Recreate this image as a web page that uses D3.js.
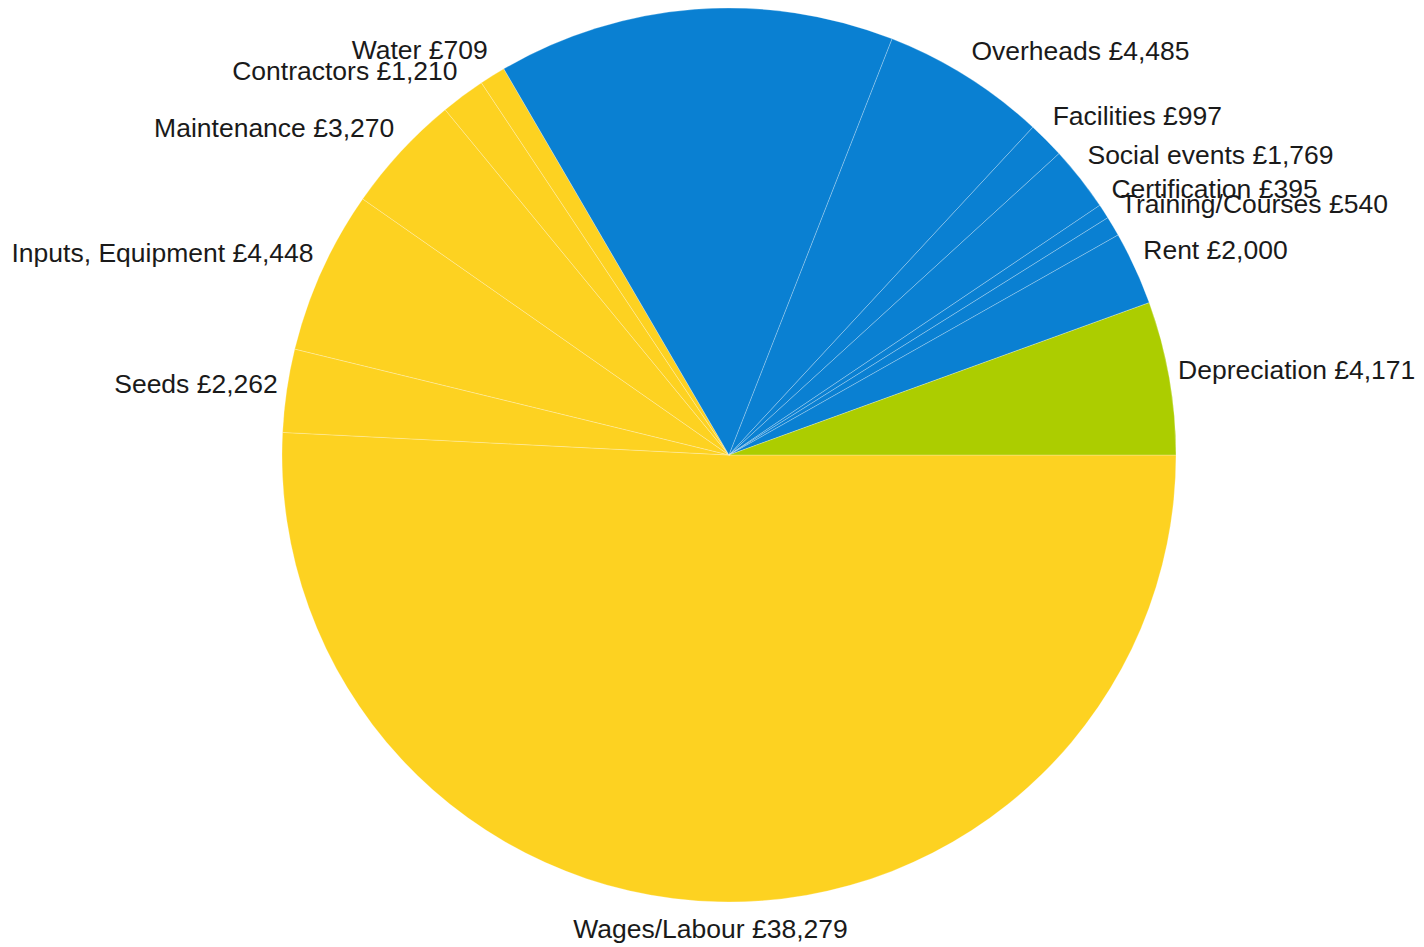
<!DOCTYPE html>
<html>
<head>
<meta charset="utf-8">
<script src="https://cdn.jsdelivr.net/npm/d3@7"></script>
<style>
  body { margin: 0; background: #fff; }
  text { font-family: "Liberation Sans", Arial, sans-serif; fill: #1a1a1a; }
</style>
</head>
<body>
<div class="chart"></div>
<script>
// clockwise from 3 o'clock, like the source
var categories = ["Wages/Labour", "Seeds", "Inputs, Equipment", "Maintenance", "Contractors", "Water",
                  "", "Overheads", "Facilities", "Social events", "Certification", "Training/Courses",
                  "Rent", "Depreciation"],
    values = [38279, 2262, 4448, 3270, 1210, 709, 10810, 4485, 997, 1769, 395, 540, 2000, 4171],
    groups = ["yellow", "yellow", "yellow", "yellow", "yellow", "yellow",
              "blue", "blue", "blue", "blue", "blue", "blue", "blue", "green"];

var width = 1424, height = 947,
    cx = 729, cy = 455,
    radius = 447,
    labelGap = 9,
    halfH = 18,
    fmt = d3.format(",");

var color = d3.scaleOrdinal()
    .domain(["yellow", "blue", "green"])
    .range(["#fdd221", "#0a80d2", "#accd00"]);

var data = categories.map(function(c, i) {
    return {name: c, value: values[i], group: groups[i]};
});

var svg = d3.select(".chart").append("svg")
    .attr("width", width)
    .attr("height", height)
    .append("g")
    .attr("transform", "translate(" + cx + "," + cy + ")");

var pie = d3.pie()
    .sort(null)
    .value(function(d) { return d.value; })
    .startAngle(Math.PI / 2)
    .endAngle(Math.PI / 2 + 2 * Math.PI);

var arc = d3.arc().innerRadius(0).outerRadius(radius);

var arcs = pie(data);

svg.selectAll("path.slice")
    .data(arcs)
    .enter().append("path")
    .attr("class", "slice")
    .attr("d", arc)
    .style("fill", function(d) { return color(d.data.group); })
    .style("stroke", "rgba(255,255,255,0.25)")
    .style("stroke-width", 1);

// labels: sit just outside the rim, pushed away from the pie by the box size
function clamp(v) { return Math.max(-1, Math.min(1, v)); }

svg.selectAll("text.label")
    .data(arcs.filter(function(d) { return d.data.name !== ""; }))
    .enter().append("text")
    .attr("class", "label")
    .style("font-size", "26.5px")
    .attr("dy", "0.35em")
    .text(function(d) { return d.data.name + " £" + fmt(d.data.value); })
    .each(function(d) {
        var a = (d.startAngle + d.endAngle) / 2,
            s = Math.sin(a), c = -Math.cos(a), // s: x dir, c: y dir (screen)
            r = radius + labelGap,
            px = r * s, py = r * c,
            w = this.getComputedTextLength(),
            kx = clamp(s * 2), ky = clamp(c * 2);
        d3.select(this)
            .attr("text-anchor", "middle")
            .attr("x", px + kx * w / 2)
            .attr("y", py + ky * halfH);
    });
</script>
</body>
</html>
